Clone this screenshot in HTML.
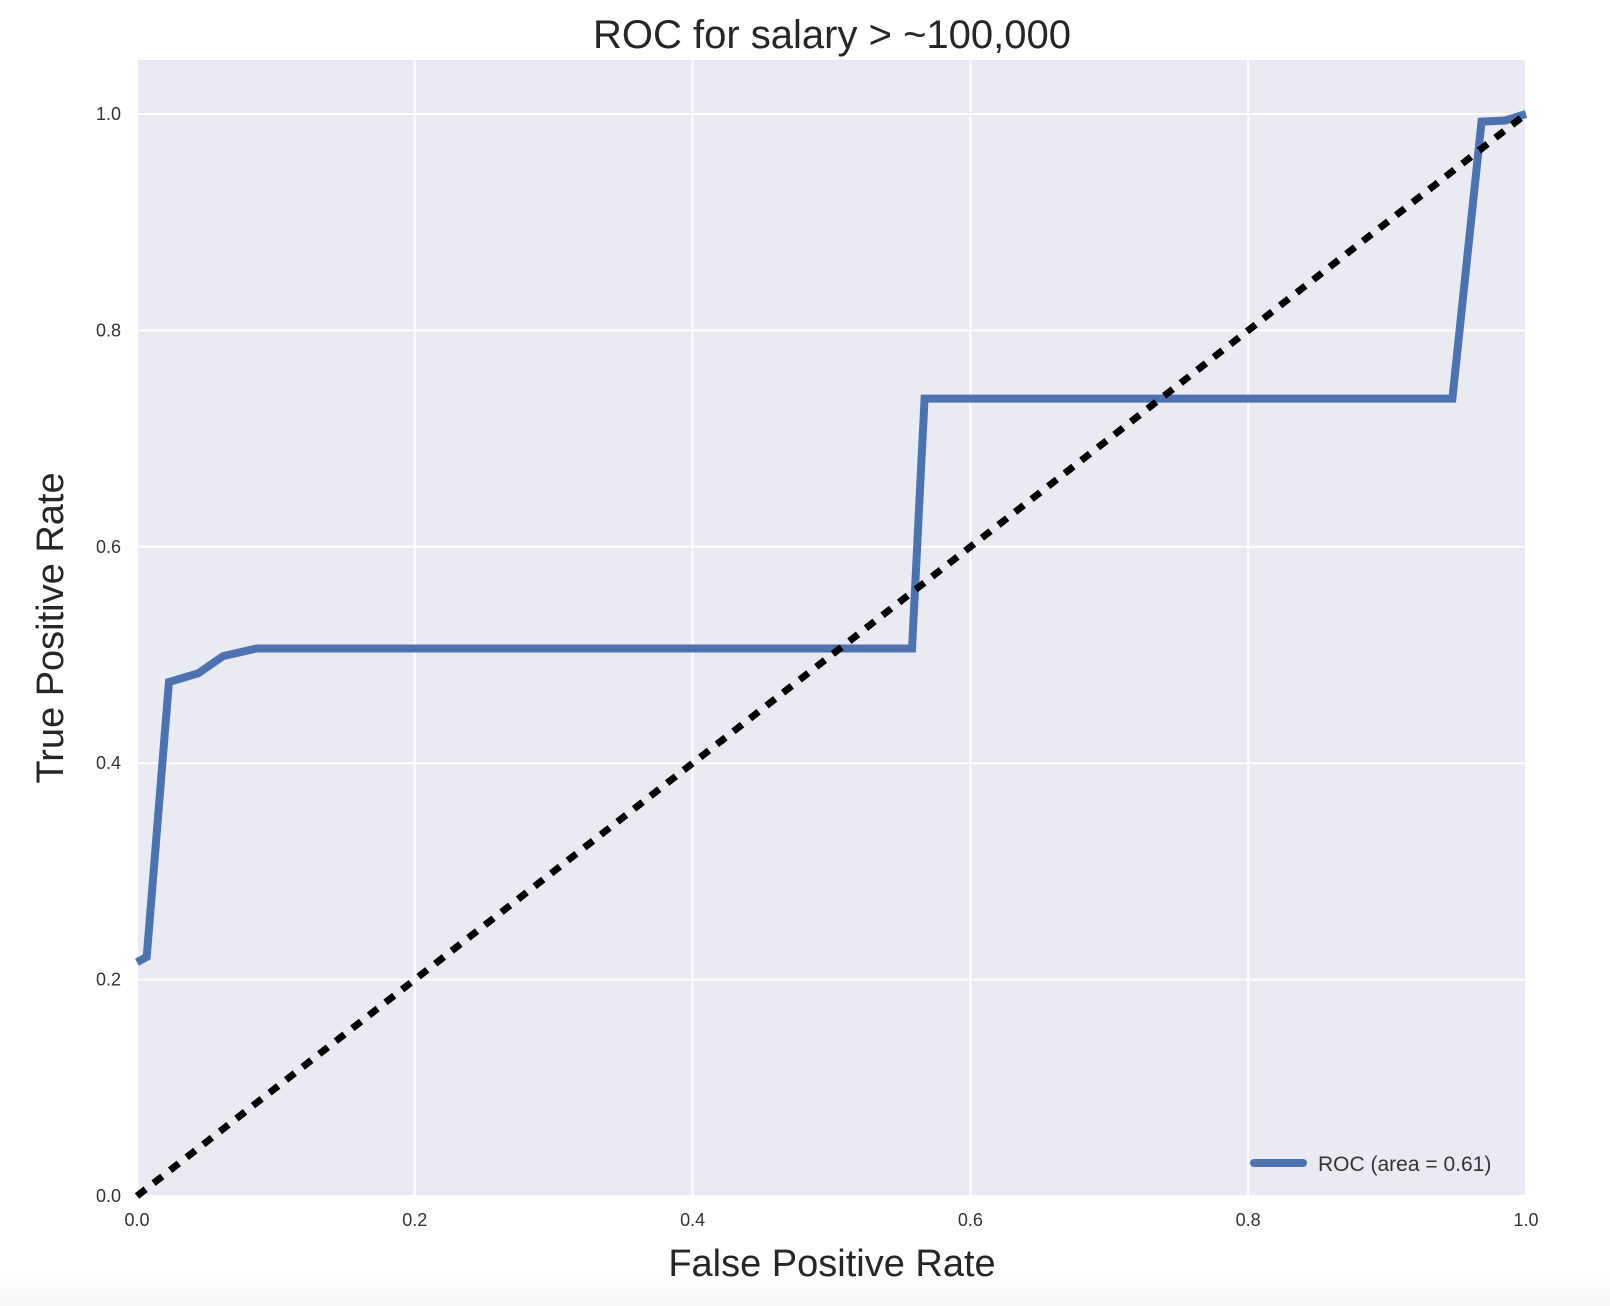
<!DOCTYPE html>
<html><head><meta charset="utf-8"><style>
body{margin:0;background:#fff;}
svg{display:block;font-family:"Liberation Sans",sans-serif;}
</style></head><body>
<svg id="chart" width="1610" height="1306" viewBox="0 0 1610 1306">
<defs><linearGradient id="bg" x1="0" y1="0" x2="0" y2="1"><stop offset="0" stop-color="#fff"/><stop offset="1" stop-color="#f6f6f6"/></linearGradient></defs>
<rect x="0" y="1270" width="1610" height="36" fill="url(#bg)"/>
<rect x="137" y="60" width="1389" height="1136" fill="#eaeaf2"/>
<g id="grid"></g>
<g id="ticks"></g>
<g id="series"></g>
<text x="832" y="48" font-size="40" text-anchor="middle" fill="#262626">ROC for salary &gt; ~100,000</text>
<text x="832" y="1276" font-size="38" text-anchor="middle" fill="#262626">False Positive Rate</text>
<text transform="translate(63,628) rotate(-90)" font-size="38" text-anchor="middle" fill="#262626">True Positive Rate</text>
<g>
<line x1="1254" y1="1163" x2="1303" y2="1163" stroke="#4c72b0" stroke-width="8" stroke-linecap="round"/>
<text x="1318" y="1171" font-size="21" fill="#333">ROC (area = 0.61)</text>
</g>
</svg>
<script>
const fpr = [0, 0.007, 0.023, 0.044, 0.062, 0.086, 0.558, 0.567, 0.947, 0.968, 0.985, 1.0];
const tpr = [0.216, 0.221, 0.475, 0.483, 0.499, 0.506, 0.506, 0.737, 0.737, 0.993, 0.994, 1.0];
const diagX = [0, 1];
const diagY = [0, 1];
const xTicks = [0, 0.2, 0.4, 0.6, 0.8, 1.0];
const xTickLabels = ["0.0", "0.2", "0.4", "0.6", "0.8", "1.0"];
const yTicks = [0, 0.2, 0.4, 0.6, 0.8, 1.0];
const yTickLabels = ["0.0", "0.2", "0.4", "0.6", "0.8", "1.0"];

const NS = "http://www.w3.org/2000/svg";
const L = 137, R = 1526, B = 1196, T = 60;
function sx(v){ return L + v * (R - L); }
function sy(v){ return B - v * (B - 114); }
function mk(tag, attrs, parent){ const e = document.createElementNS(NS, tag); for (const k in attrs) e.setAttribute(k, attrs[k]); parent.appendChild(e); return e; }
const grid = document.getElementById('grid'), ticks = document.getElementById('ticks'), series = document.getElementById('series');
xTicks.forEach((v, i) => {
  const g = mk('line', {x1: sx(v), x2: sx(v), y1: T, y2: B, stroke: '#fff', 'stroke-width': 2}, grid);
  
  
  const t = mk('text', {x: sx(v), y: B + 30, 'font-size': 18, 'text-anchor': 'middle', fill: '#333'}, ticks);
  t.textContent = xTickLabels[i];
  
  
});
yTicks.forEach((v, i) => {
  const g = mk('line', {x1: L, x2: R, y1: sy(v), y2: sy(v), stroke: '#fff', 'stroke-width': 2}, grid);
  
  
  const t = mk('text', {x: L - 16, y: sy(v) + 6, 'font-size': 18, 'text-anchor': 'end', fill: '#333'}, ticks);
  t.textContent = yTickLabels[i];
  
  
});
const roc = mk('polyline', {points: fpr.map((x, i) => sx(x) + ',' + sy(tpr[i])).join(' '), fill: 'none', stroke: '#4c72b0', 'stroke-width': 8, 'stroke-linejoin': 'miter'}, series);


const diag = mk('line', {x1: sx(diagX[0]), y1: sy(diagY[0]), x2: sx(diagX[1]), y2: sy(diagY[1]), stroke: '#000', 'stroke-width': 7, 'stroke-dasharray': '11 10'}, series);


</script>
</body></html>
